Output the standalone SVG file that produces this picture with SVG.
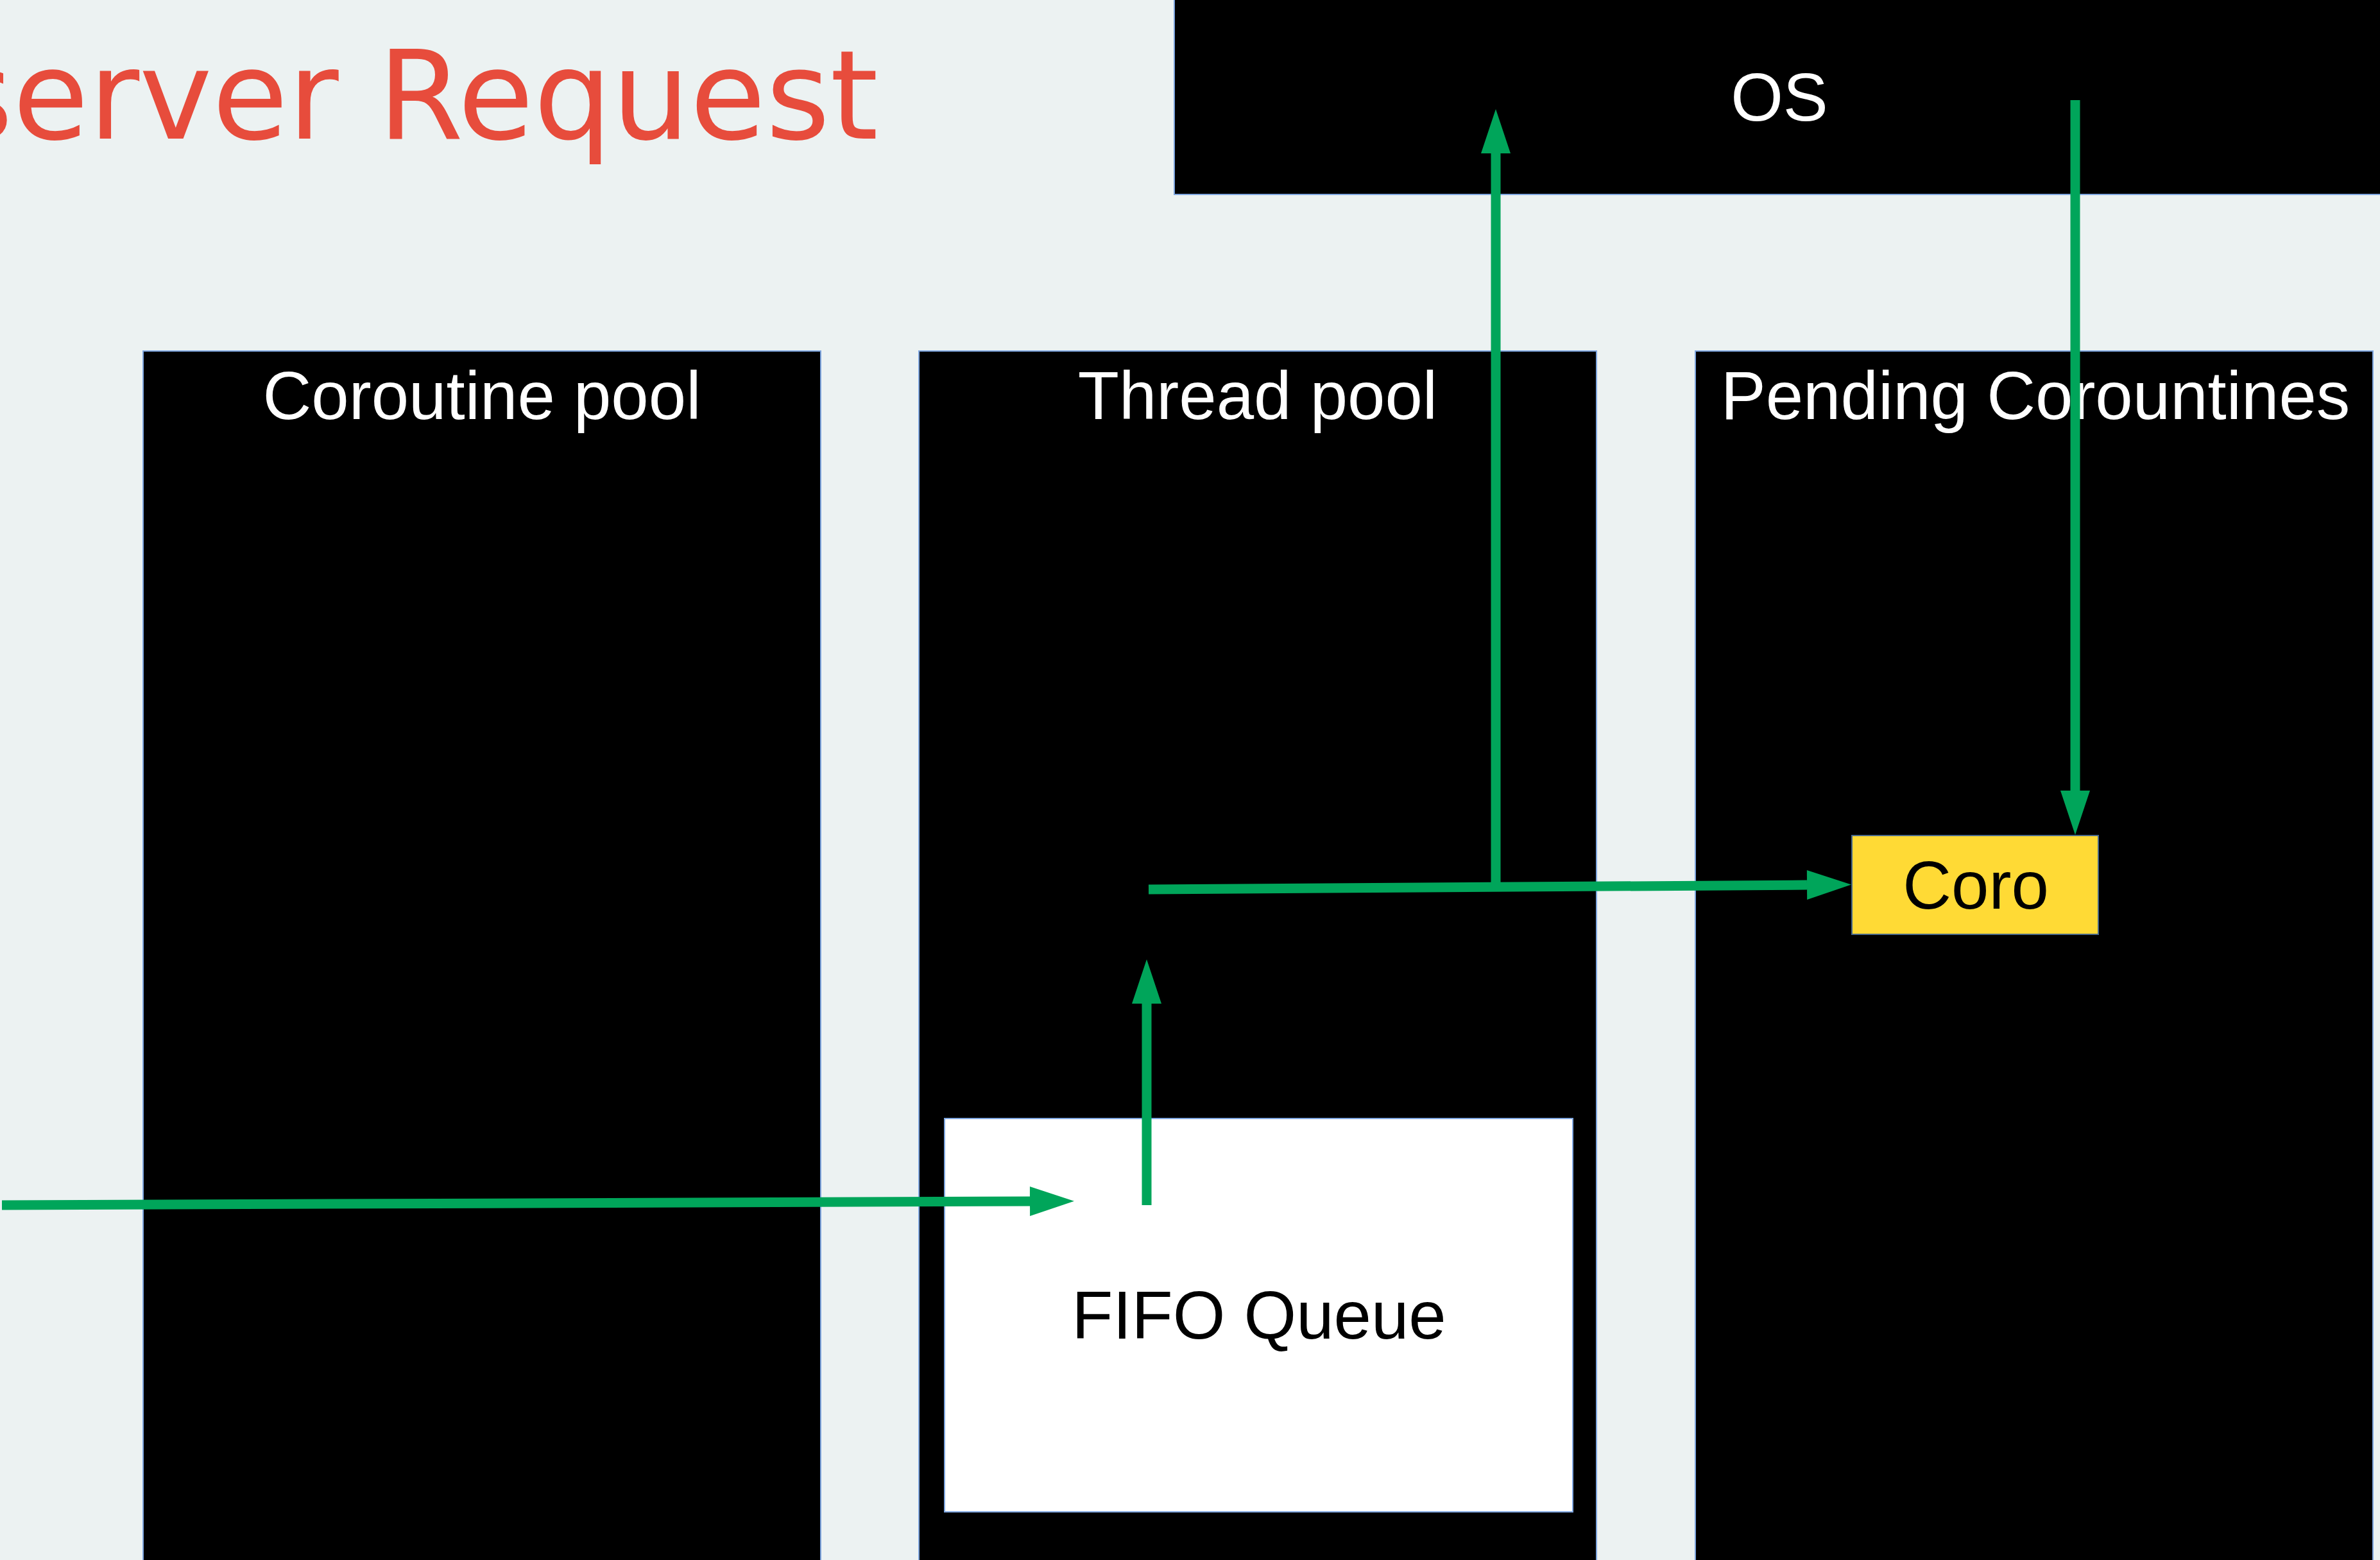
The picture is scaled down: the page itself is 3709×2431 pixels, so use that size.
<svg xmlns="http://www.w3.org/2000/svg" width="3709" height="2431" viewBox="0 0 3709 2431">
<style>
.pool{fill:#000000;stroke:#7EA6E0;stroke-width:2}
.lbl{font-family:"Liberation Sans",Arial,sans-serif;font-size:105px;text-anchor:middle}
.white{fill:#FFFFFF}
.black{fill:#000000}
.conn{fill:none;stroke:#00A55A;stroke-width:15}
</style>
<defs>
<marker id="arr" markerUnits="userSpaceOnUse" markerWidth="70" markerHeight="46" refX="0" refY="23" orient="auto" viewBox="0 0 70 46" overflow="visible">
<path d="M0,0 L69,23 L0,46 Z" fill="#00A55A"/>
</marker>
</defs>
<rect x="0" y="0" width="3709" height="2431" fill="#ECF2F2"/>
<text x="-80" y="216" font-family="'DejaVu Sans',sans-serif" font-size="192" fill="#E74C3C">server Request</text>
<g id="os">
<rect class="pool" x="1830" y="-10" width="1900" height="313"/>
<text class="lbl white" x="2773" y="188">OS</text>
</g>
<g id="coroutine-pool">
<rect class="pool" x="223" y="547" width="1056" height="1890"/>
<text class="lbl white" x="751" y="653">Coroutine pool</text>
</g>
<g id="thread-pool">
<rect class="pool" x="1432" y="547" width="1056" height="1890"/>
<text class="lbl white" x="1960" y="653">Thread pool</text>
</g>
<g id="pending">
<rect class="pool" x="2642" y="547" width="1056" height="1890"/>
<text class="lbl white" x="3172" y="653">Pending Corountines</text>
</g>
<g id="fifo">
<rect x="1472" y="1743" width="979" height="613" fill="#FFFFFF" stroke="#7EA6E0" stroke-width="2"/>
<text class="lbl black" x="1962" y="2086">FIFO Queue</text>
</g>
<g id="coro">
<rect x="2886" y="1302" width="384" height="154" fill="#FFDA35" stroke="#4A6A8A" stroke-width="2"/>
<text class="lbl black" x="3079" y="1416">Coro</text>
</g>
<g id="connectors">
<path class="conn" d="M3,1878 L1605,1872" marker-end="url(#arr)"/>
<path class="conn" d="M1787,1878 L1787,1564" marker-end="url(#arr)"/>
<path class="conn" d="M1790,1386 L2816,1379" marker-end="url(#arr)"/>
<path class="conn" d="M2331,1381 L2331,239" marker-end="url(#arr)"/>
<path class="conn" d="M3234,156 L3234,1232" marker-end="url(#arr)"/>
</g>
</svg>
